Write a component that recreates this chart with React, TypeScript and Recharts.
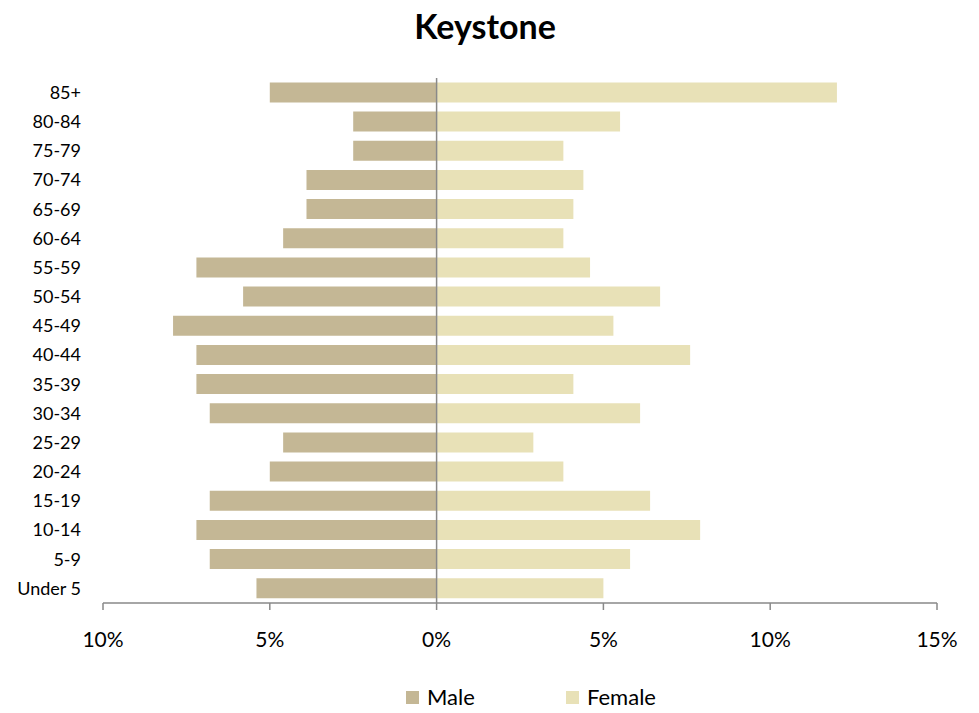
import {
  BarChart,
  Bar,
  XAxis,
  YAxis,
  ReferenceLine,
} from 'recharts'

const AGE_GROUPS = ['Under 5','5-9','10-14','15-19','20-24','25-29','30-34','35-39','40-44','45-49','50-54','55-59','60-64','65-69','70-74','75-79','80-84','85+']
const MALE = [5.4, 6.8, 7.2, 6.8, 5.0, 4.6, 6.8, 7.2, 7.2, 7.9, 5.8, 7.2, 4.6, 3.9, 3.9, 2.5, 2.5, 5.0]
const FEMALE = [5.0, 5.8, 7.9, 6.4, 3.8, 2.9, 6.1, 4.1, 7.6, 5.3, 6.7, 4.6, 3.8, 4.1, 4.4, 3.8, 5.5, 12.0]
const X_TICKS = [-10, -5, 0, 5, 10, 15]

const MALE_COLOR = '#C4B795'
const FEMALE_COLOR = '#E8E1B7'
const FONT = 'Lato, "Open Sans", sans-serif'

const data = AGE_GROUPS.map((age, i) => ({ age, male: -MALE[i], female: FEMALE[i] }))

function LegendItem({ color, label, left }: { color: string; label: string; left: number }) {
  return (
    <div style={{ position: 'absolute', left, top: 685, display: 'flex', alignItems: 'center' }}>
      <div style={{ width: 13, height: 13, background: color, marginRight: 8 }} />
      <span style={{ fontSize: 22, color: '#000', lineHeight: '24px' }}>{label}</span>
    </div>
  )
}

export default function App() {
  return (
    <div style={{ position: 'absolute', left: 0, top: 0, width: 979, height: 713, fontFamily: FONT, background: '#fff' }}>
      <div
        style={{
          position: 'absolute',
          top: 5,
          left: 0,
          width: 970,
          textAlign: 'center',
          fontSize: 34,
          fontWeight: 700,
          color: '#000',
        }}
      >
        Keystone
      </div>
      <BarChart
        width={979}
        height={713}
        data={data}
        layout="vertical"
        stackOffset="sign"
        barCategoryGap="15%"
        margin={{ top: 78, right: 42, left: 0, bottom: 50 }}
      >
        <XAxis
          type="number"
          domain={[-10, 15]}
          ticks={X_TICKS}
          tickFormatter={(v) => `${Math.abs(v)}%`}
          axisLine={{ stroke: '#898989', strokeWidth: 1.5 }}
          tickLine={{ stroke: '#898989', strokeWidth: 1.5 }}
          tickSize={7}
          tickMargin={22}
          height={60}
          tick={{ fontSize: 21, fill: '#000', fontFamily: FONT }}
        />
        <YAxis
          type="category"
          dataKey="age"
          reversed
          width={103}
          axisLine={false}
          tickLine={false}
          tickSize={0}
          tickMargin={22}
          interval={0}
          tick={{ fontSize: 18, fill: '#000', fontFamily: FONT }}
        />
        <Bar dataKey="male" stackId="a" fill={MALE_COLOR} isAnimationActive={false} />
        <Bar dataKey="female" stackId="a" fill={FEMALE_COLOR} isAnimationActive={false} />
        <ReferenceLine x={0} stroke="#898989" strokeWidth={1.5} />
      </BarChart>
      <LegendItem color={MALE_COLOR} label="Male" left={406} />
      <LegendItem color={FEMALE_COLOR} label="Female" left={566} />
    </div>
  )
}
